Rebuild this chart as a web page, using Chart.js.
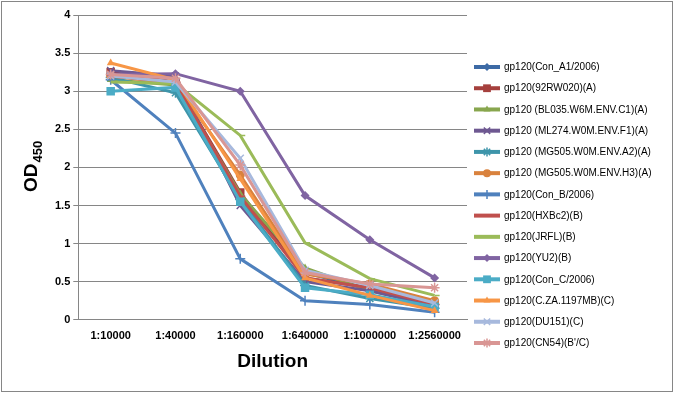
<!DOCTYPE html>
<html>
<head>
<meta charset="utf-8">
<script src="https://cdn.jsdelivr.net/npm/chart.js@4.4.1/dist/chart.umd.min.js"></script>
<style>
  html, body { margin: 0; padding: 0; background: #fff; }
  #wrap { position: relative; width: 674px; height: 393px; }
</style>
</head>
<body>
<div id="wrap"><canvas id="myChart" width="674" height="393"></canvas></div>
<script>
const dilutions = ['1:10000', '1:40000', '1:160000', '1:640000', '1:1000000', '1:2560000'];

const conA1    = [3.22, 3.10, 1.60, 0.62, 0.40, 0.18];
const rw020    = [3.25, 3.12, 1.67, 0.55, 0.42, 0.20];
const bl035    = [3.15, 3.08, 1.65, 0.68, 0.38, 0.20];
const ml274    = [3.27, 3.20, 1.50, 0.50, 0.38, 0.18];
const mg505A2  = [3.18, 2.98, 1.58, 0.45, 0.28, 0.15];
const mg505H3  = [3.20, 3.10, 1.90, 0.60, 0.47, 0.25];
const conB     = [3.15, 2.45, 0.80, 0.25, 0.20, 0.10];
const hxbc2    = [3.20, 3.12, 1.62, 0.55, 0.42, 0.20];
const jrfl     = [3.12, 3.10, 2.42, 1.01, 0.54, 0.32];
const yu2      = [3.22, 3.23, 3.00, 1.63, 1.05, 0.55];
const conC     = [3.00, 3.05, 1.55, 0.42, 0.33, 0.17];
const cza      = [3.37, 3.15, 1.85, 0.55, 0.32, 0.12];
const du151    = [3.20, 3.12, 2.12, 0.65, 0.45, 0.22];
const cn54     = [3.22, 3.17, 2.03, 0.62, 0.47, 0.42];

const series = [
  ['gp120(Con_A1/2006)',             conA1,   '#3D6AA5', 'rectRot'],
  ['gp120(92RW020)(A)',              rw020,   '#A5403D', 'rect'],
  ['gp120 (BL035.W6M.ENV.C1)(A)',    bl035,   '#88A64E', 'triangle'],
  ['gp120 (ML274.W0M.ENV.F1)(A)',    ml274,   '#6E5891', 'crossRot'],
  ['gp120 (MG505.W0M.ENV.A2)(A)',    mg505A2, '#3E95AA', 'star'],
  ['gp120 (MG505.W0M.ENV.H3)(A)',    mg505H3, '#D9823D', 'circle'],
  ['gp120(Con_B/2006)',              conB,    '#4F81BD', 'cross'],
  ['gp120(HXBc2)(B)',                hxbc2,   '#C0504D', 'dash'],
  ['gp120(JRFL)(B)',                 jrfl,    '#9BBB59', 'dash'],
  ['gp120(YU2)(B)',                  yu2,     '#8064A2', 'rectRot'],
  ['gp120(Con_C/2006)',              conC,    '#4BACC6', 'rect'],
  ['gp120(C.ZA.1197MB)(C)',          cza,     '#F79646', 'triangle'],
  ['gp120(DU151)(C)',                du151,   '#A7B9DD', 'crossRot'],
  ['gp120(CN54)(B\'/C)',             cn54,    '#D99694', 'star']
];

const stroked = ['crossRot', 'star', 'cross', 'dash'];

function markerSize(style) {
  if (style === 'rect') return 6;
  if (stroked.includes(style)) return 5;
  return 4.5;
}

const datasets = series.map((s, i) => ({
  label: s[0],
  data: s[1],
  borderColor: s[2],
  backgroundColor: s[2],
  pointStyle: s[3],
  pointRadius: markerSize(s[3]),
  pointBorderWidth: stroked.includes(s[3]) ? 1.5 : 0,
  borderWidth: 3,
  tension: 0,
  fill: false,
  order: series.length - i   // later series drawn on top, like Excel
}));

// frame, axis titles and the legend (drawn by hand to get Excel's layout)
const framePlugin = {
  id: 'frame',
  beforeDraw(chart) {
    const c = chart.ctx;
    c.save();
    c.fillStyle = '#fff';
    c.fillRect(0, 0, chart.width, chart.height);
    c.strokeStyle = '#868686';
    c.lineWidth = 1;
    c.strokeRect(1.5, 1.5, chart.width - 3, chart.height - 3);
    c.restore();
  },
  afterDraw(chart) {
    const c = chart.ctx;
    const area = chart.chartArea;
    c.save();
    c.fillStyle = '#000';

    // y title OD450
    c.save();
    c.translate(37, 192);
    c.rotate(-Math.PI / 2);
    c.textBaseline = 'alphabetic';
    c.font = 'bold 19px "Liberation Sans"';
    c.fillText('OD', 0, 0);
    const w = c.measureText('OD').width;
    c.font = 'bold 13px "Liberation Sans"';
    c.fillText('450', w + 1, 5);
    c.restore();

    // x title
    c.textAlign = 'center';
    c.textBaseline = 'middle';
    c.font = 'bold 19px "Liberation Sans"';
    c.fillText('Dilution', (area.left + area.right) / 2, 362);

    // legend
    c.textAlign = 'left';
    c.font = '10px "Liberation Sans"';
    chart.data.datasets.forEach((ds, i) => {
      const y = 67 + i * 21.23;
      c.strokeStyle = ds.borderColor;
      c.lineWidth = 4;
      c.beginPath();
      c.moveTo(474, y);
      c.lineTo(500, y);
      c.stroke();
      c.fillStyle = ds.backgroundColor;
      c.lineWidth = ds.pointBorderWidth || 1;
      Chart.helpers.drawPoint(c, {
        pointStyle: ds.pointStyle,
        rotation: 0,
        radius: ds.pointRadius - 0.5,
        borderWidth: ds.pointBorderWidth
      }, 487, y);
      c.fillStyle = '#000';
      c.fillText(ds.label, 504, y + 0.5);
    });
    c.restore();
  }
};

const ctx = document.getElementById('myChart').getContext('2d');
const myChart = new Chart(ctx, {
  type: 'line',
  data: {
    labels: dilutions,
    datasets: datasets
  },
  options: {
    responsive: false,
    animation: false,
    layout: {
      padding: { left: 52, top: 15, right: 207, bottom: 40 }
    },
    plugins: {
      legend: { display: false },
      tooltip: { enabled: false }
    },
    scales: {
      y: {
        min: 0,
        max: 4,
        ticks: {
          stepSize: 0.5,
          color: '#000',
          padding: 3,
          callback: v => String(v),
          font: { family: '"Liberation Sans"', size: 11, weight: 'bold' }
        },
        grid: {
          color: '#868686',
          lineWidth: 1,
          tickLength: 5
        },
        border: { color: '#868686' }
      },
      x: {
        offset: true,
        ticks: {
          color: '#000',
          padding: 10,
          maxRotation: 0,
          font: { family: '"Liberation Sans"', size: 11, weight: 'bold' }
        },
        grid: { display: false, drawTicks: false, offset: true },
        border: { color: '#868686' }
      }
    }
  },
  plugins: [framePlugin]
});
</script>
</body>
</html>
